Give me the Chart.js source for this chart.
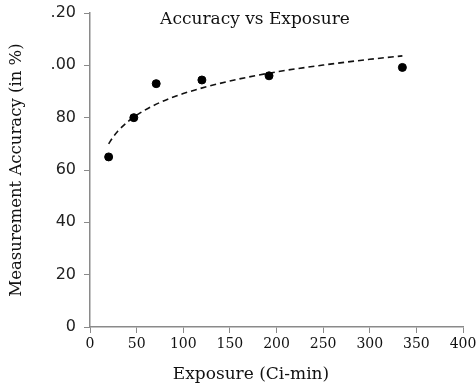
<!DOCTYPE html>
<html>
<head>
<meta charset="utf-8">
<script src="https://cdn.jsdelivr.net/npm/chart.js@4.4.1/dist/chart.umd.min.js"></script>
<style>
  html, body { margin: 0; padding: 0; background: #fff; }
  #wrap { width: 476px; height: 388px; }
</style>
</head>
<body>
<div id="wrap"><canvas id="grafica"></canvas></div>
<script>
// datos
var exposicion = [20, 47, 71, 120, 192, 335];
var precision  = [65, 80, 93, 94.4, 96, 99.2];

// linea de tendencia (log)
var tendenciaX = [20, 25, 30, 40, 50, 75, 100, 150, 200, 250, 300, 335];
var tendenciaY = [70, 72.7, 74.9, 78.3, 81, 85.8, 89.2, 94, 97.5, 100.1, 102.3, 103.6];

var ticksX = [0, 50, 100, 150, 200, 250, 300, 350, 400];
var ticksY = [0, 20, 40, 60, 80, 100, 120];
var etiquetasY = ['0', '20', '40', '60', '80', '.00', '.20'];

var titulo = 'Accuracy vs Exposure';
var tituloX = 'Exposure (Ci-min)';
var tituloY = 'Measurement Accuracy (in %)';

function pares(xs, ys){
    let arr = [];
    for(let i=0; i<xs.length; i++){
        arr.push({x: xs[i], y: ys[i]});
    }
    return arr;
}

const colorEje = '#8a8a8a';

const textos = {
    id: 'textos',
    afterDraw(chart){
        const ctx = chart.ctx;
        const area = chart.chartArea;
        ctx.save();
        ctx.fillStyle = '#111';
        ctx.textAlign = 'center';
        ctx.textBaseline = 'middle';
        ctx.font = '17px "DejaVu Serif"';
        ctx.fillText(titulo, 255, area.top + 7);
        ctx.fillText(tituloX, 251, 375);
        ctx.restore();
    }
};

var miGrafica = new Chart(document.getElementById('grafica').getContext('2d'), {
    type: 'scatter',
    data: {
        datasets: [{
            label: 'Accuracy',
            data: pares(exposicion, precision),
            backgroundColor: '#000',
            borderColor: '#000',
            pointRadius: 4,
            pointHoverRadius: 4,
            order: 1
        },
        {
            label: 'Trend',
            data: pares(tendenciaX, tendenciaY),
            showLine: true,
            borderColor: '#111',
            borderWidth: 1.6,
            borderDash: [6, 4],
            pointRadius: 0,
            cubicInterpolationMode: 'monotone',
            order: 2
        }]
    },
    options: {
        responsive: true,
        maintainAspectRatio: false,
        animation: false,
        layout: { padding: 0 },
        plugins: {
            legend: { display: false },
            tooltip: { enabled: false }
        },
        scales: {
            x: {
                type: 'linear',
                min: 0,
                max: 400,
                afterBuildTicks: function(scale){
                    scale.ticks = ticksX.map(v => ({value: v}));
                },
                afterFit: function(scale){
                    scale.height = 61;
                    scale.paddingRight = 13;
                },
                grid: { drawOnChartArea: false, drawTicks: true, tickLength: 6, color: colorEje },
                border: { display: true, color: colorEje, width: 1.5 },
                ticks: {
                    color: '#111',
                    padding: 3,
                    maxRotation: 0,
                    font: { family: '"DejaVu Serif"', size: 14 }
                }
            },
            y: {
                type: 'linear',
                min: 0,
                max: 120,
                afterBuildTicks: function(scale){
                    scale.ticks = ticksY.map(v => ({value: v}));
                },
                afterFit: function(scale){
                    scale.width = 90;
                    scale.paddingTop = 13;
                },
                grid: { drawOnChartArea: false, drawTicks: true, tickLength: 6, color: colorEje },
                border: { display: true, color: colorEje, width: 1.5 },
                ticks: {
                    color: '#222',
                    padding: 8,
                    font: { family: '"DejaVu Sans"', size: 16 },
                    callback: function(value){
                        return etiquetasY[ticksY.indexOf(value)];
                    }
                },
                title: {
                    display: true,
                    text: tituloY,
                    color: '#111',
                    padding: { top: 7, bottom: 0 },
                    font: { family: '"DejaVu Serif"', size: 16.5 }
                }
            }
        }
    },
    plugins: [textos]
});
</script>
</body>
</html>
